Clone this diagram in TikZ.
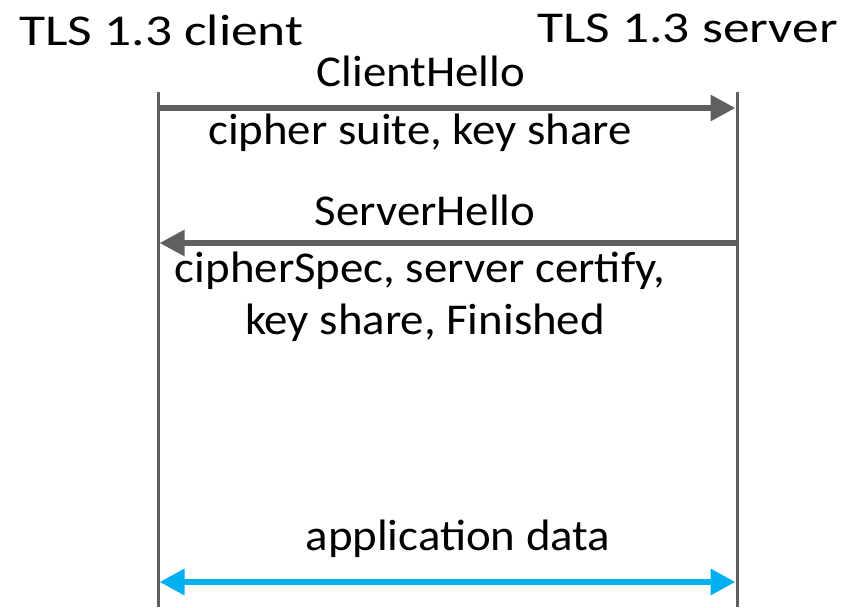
\documentclass[tikz,border=0pt]{standalone}
\usepackage{fontspec}
\setmainfont{Carlito}
\newfontfamily\lblfont{Carlito}[FakeStretch=1.065]
\newfontfamily\titlefont{Carlito}[FakeStretch=1.215]
\usetikzlibrary{arrows.meta}
\definecolor{lifegray}{HTML}{5F5F5F}
\definecolor{msggray}{HTML}{606060}
\definecolor{datablue}{HTML}{00B0F0}
\tikzset{
  title/.style={font=\titlefont\fontsize{44}{52}\selectfont, anchor=base, inner sep=0pt},
  lbl/.style={font=\lblfont\fontsize{44}{52}\selectfont, anchor=base, inner sep=0pt},
  lifeline/.style={draw=lifegray, line width=3pt},
  msg/.style={draw=msggray, line width=6pt, -{Triangle[length=25pt,width=25pt]}},
  datamsg/.style={draw=datablue, line width=6.5pt, {Triangle[length=25pt,width=25pt]}-{Triangle[length=25pt,width=25pt]}}
}
\begin{document}
\begin{tikzpicture}[x=1pt,y=-1pt]
\useasboundingbox (0,0) rectangle (858,607);
% lifelines
\coordinate (ctop) at (158,92);
\coordinate (cbot) at (158,607);
\coordinate (stop) at (737,92);
\coordinate (sbot) at (737,607);
\draw[lifeline] (ctop) -- (cbot);
\draw[lifeline] (stop) -- (sbot);
% titles
\node[title] (client) at (161.5,46) {TLS 1.3 client};
\node[title] (server) at (687.5,43) {TLS 1.3 server};
% message anchor points
\coordinate (c1) at (159.5,108);
\coordinate (s1) at (735.5,108);
\coordinate (s2) at (735.5,243);
\coordinate (c2) at (159.5,243);
\coordinate (c3) at (159.5,582);
\coordinate (s3) at (735.5,582);
\draw[msg] (c1) -- (s1);
\draw[msg] (s2) -- (c2);
\draw[datamsg] (c3) -- (s3);
% labels
\node[lbl] (ch) at (421,87) {ClientHello};
\node[lbl] (cs) at (420,144) {cipher suite, key share};
\node[lbl] (sh) at (425,225) {ServerHello};
\node[lbl] (sp) at (420,282) {cipherSpec, server certify,};
\node[lbl] (ks) at (425,334) {key share, Finished};
\node[lbl] (ad) at (458,550) {application data};
\end{tikzpicture}
\end{document}
